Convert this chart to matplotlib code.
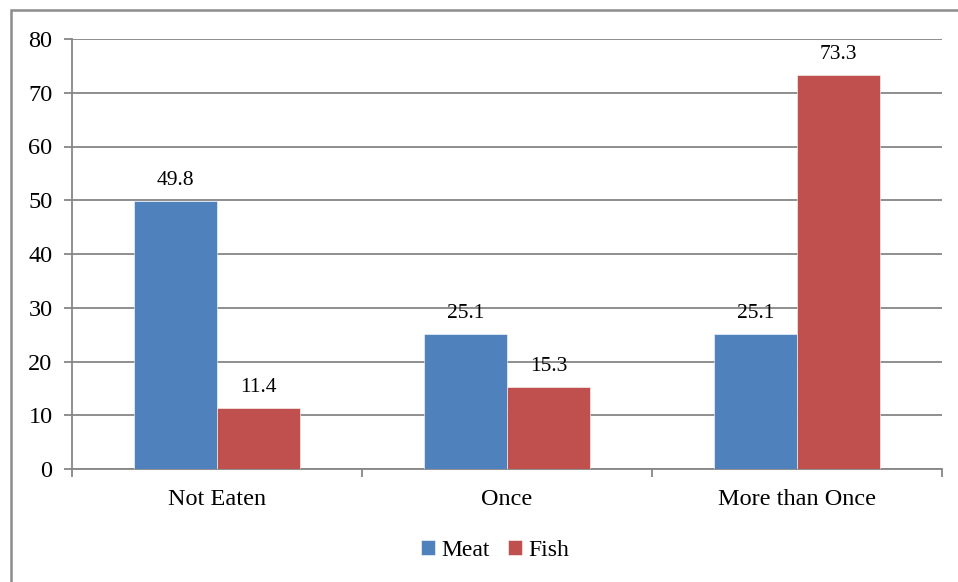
import matplotlib
matplotlib.use("Agg")
import matplotlib.pyplot as plt
from matplotlib.patches import Rectangle
import numpy as np

categories = ["Not Eaten", "Once", "More than Once"]
meat = [49.8, 25.1, 25.1]
fish = [11.4, 15.3, 73.3]
series_names = ["Meat", "Fish"]
yticks = [0, 10, 20, 30, 40, 50, 60, 70, 80]

plt.rcParams["font.family"] = ["Liberation Serif", "DejaVu Serif"]

W, H = 958, 582
fig = plt.figure(figsize=(W / 100, H / 100), dpi=100)
fig.patch.set_facecolor("white")

# outer chart border
fig.add_artist(Rectangle((11 / W, -0.05), 1.2, 1 - 10 / H + 0.05,
                         transform=fig.transFigure, fill=False,
                         edgecolor="#8c8c8c", linewidth=1.8))

ax = fig.add_axes([72 / W, 1 - 469 / H, (942 - 72) / W, (469 - 39) / H])
grid_c = "#868686"
bw = 1 / 3.5
x = np.arange(len(categories))
b1 = ax.bar(x - bw / 2, meat, bw, color="#4F81BD", label=series_names[0],
            edgecolor="white", linewidth=0.4, zorder=3)
b2 = ax.bar(x + bw / 2, fish, bw, color="#C0504D", label=series_names[1],
            edgecolor="white", linewidth=0.4, zorder=3)

for bars, vals in ((b1, meat), (b2, fish)):
    for r, v in zip(bars, vals):
        ax.annotate(f"{v:.1f}", (r.get_x() + r.get_width() / 2, v),
                    xytext=(0, 8), textcoords="offset points",
                    ha="center", va="bottom", fontsize=15.5)

ax.set_xlim(-0.5, len(categories) - 0.5)
ax.set_ylim(0, 80)
ax.set_yticks(yticks)
ax.set_yticklabels([str(t) for t in yticks], fontsize=17.5)
ax.yaxis.grid(True, color=grid_c, linewidth=1.3, zorder=0)
ax.set_axisbelow(True)

ax.set_xticks(x)
ax.set_xticklabels(categories, fontsize=17.5)
ax.tick_params(axis="x", length=0, pad=14.5)
ax.set_xticks(np.arange(-0.5, len(categories), 1), minor=True)
ax.tick_params(axis="x", which="minor", length=6, width=1.3, color=grid_c)
ax.tick_params(axis="y", length=6, width=1.3, color=grid_c, pad=8)

for s in ("top", "right"):
    ax.spines[s].set_visible(False)
for s in ("left", "bottom"):
    ax.spines[s].set_color(grid_c)
    ax.spines[s].set_linewidth(1.3)

ax.legend(loc="center",
          bbox_to_anchor=((495 - 72) / (942 - 72), (469 - 550) / (469 - 39)),
          ncol=2, frameon=False, fontsize=17, handlelength=0.6, handleheight=0.6,
          handletextpad=0.25, columnspacing=0.8)

fig.savefig("out.png", dpi=100)
